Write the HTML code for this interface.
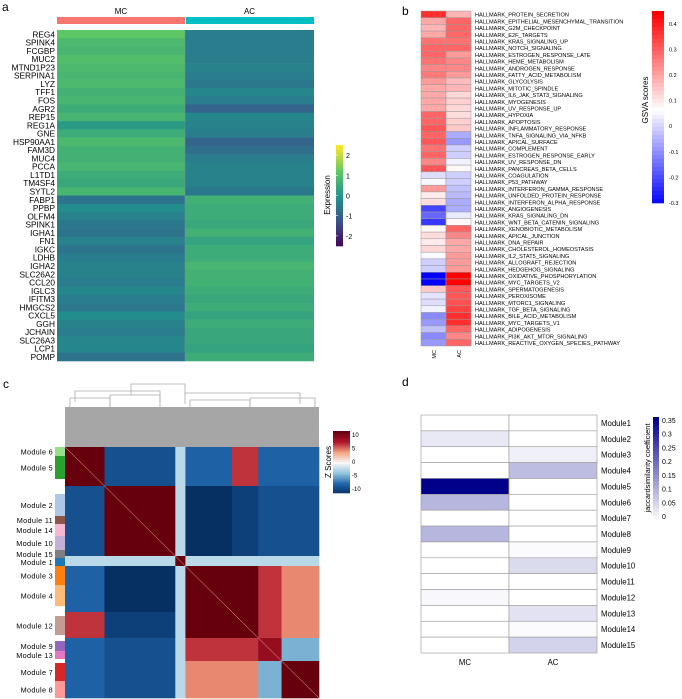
<!DOCTYPE html>
<html><head><meta charset="utf-8"><style>
body{margin:0;background:#fff;}
svg{display:block;font-family:"Liberation Sans",sans-serif;}
</style></head><body>
<svg id="s" width="682" height="699" viewBox="0 0 682 699">
<text x="2" y="11" font-size="12">a</text>
<text x="402" y="15" font-size="12">b</text>
<text x="3" y="388" font-size="12">c</text>
<text x="402" y="386" font-size="12">d</text>
<g id="ga"></g>
<g id="gb"></g>
<g id="gc"></g>
<g id="gd"></g>
</svg>
<script>
// ---- panel a data ----
const genes=["REG4","SPINK4","FCGBP","MUC2","MTND1P23","SERPINA1","LYZ","TFF1","FOS","AGR2","REP15","REG1A","GNE","HSP90AA1","FAM3D","MUC4","PCCA","L1TD1","TM4SF4","SYTL2","FABP1","PPBP","OLFM4","SPINK1","IGHA1","FN1","IGKC","LDHB","IGHA2","SLC26A2","CCL20","IGLC3","IFITM3","HMGCS2","CXCL5","GGH","JCHAIN","SLC26A3","LCP1","POMP"];
const exprMC=[1.2,0.9,0.8,1.0,0.9,0.8,0.9,0.7,0.8,0.6,0.8,0.2,0.6,0.9,0.7,0.7,0.8,0.6,0.5,0.8,-0.6,-0.1,-0.3,-0.5,-0.6,-0.3,-0.6,-0.4,-0.3,-0.3,-0.4,-0.2,-0.4,-0.5,-0.1,-0.3,-0.4,-0.2,-0.2,-0.6];
const exprAC=[-0.4,-0.4,-0.4,-0.4,-0.3,-0.4,-0.5,-0.2,-0.4,-0.9,-0.2,-0.3,-0.4,-0.9,-0.7,-0.4,-0.3,-0.3,-0.3,-0.5,0.7,0.6,0.6,0.5,0.7,0.4,0.6,0.6,0.8,0.7,0.7,0.6,0.5,0.6,0.4,0.6,0.5,0.5,0.4,0.6];
const exprTicks=[2,1,0,-1,-2];
// ---- panel b data ----
const pathways=["PROTEIN_SECRETION","EPITHELIAL_MESENCHYMAL_TRANSITION","G2M_CHECKPOINT","E2F_TARGETS","KRAS_SIGNALING_UP","NOTCH_SIGNALING","ESTROGEN_RESPONSE_LATE","HEME_METABOLISM","ANDROGEN_RESPONSE","FATTY_ACID_METABOLISM","GLYCOLYSIS","MITOTIC_SPINDLE","IL6_JAK_STAT3_SIGNALING","MYOGENESIS","UV_RESPONSE_UP","HYPOXIA","APOPTOSIS","INFLAMMATORY_RESPONSE","TNFA_SIGNALING_VIA_NFKB","APICAL_SURFACE","COMPLEMENT","ESTROGEN_RESPONSE_EARLY","UV_RESPONSE_DN","PANCREAS_BETA_CELLS","COAGULATION","P53_PATHWAY","INTERFERON_GAMMA_RESPONSE","UNFOLDED_PROTEIN_RESPONSE","INTERFERON_ALPHA_RESPONSE","ANGIOGENESIS","KRAS_SIGNALING_DN","WNT_BETA_CATENIN_SIGNALING","XENOBIOTIC_METABOLISM","APICAL_JUNCTION","DNA_REPAIR","CHOLESTEROL_HOMEOSTASIS","IL2_STAT5_SIGNALING","ALLOGRAFT_REJECTION","HEDGEHOG_SIGNALING","OXIDATIVE_PHOSPHORYLATION","MYC_TARGETS_V2","SPERMATOGENESIS","PEROXISOME","MTORC1_SIGNALING","TGF_BETA_SIGNALING","BILE_ACID_METABOLISM","MYC_TARGETS_V1","ADIPOGENESIS","PI3K_AKT_MTOR_SIGNALING","REACTIVE_OXYGEN_SPECIES_PATHWAY"];
const gsvaMC=[0.38,0.2,0.18,0.2,0.28,0.3,0.3,0.28,0.25,0.27,0.22,0.2,0.2,0.2,0.2,0.3,0.3,0.32,0.3,0.32,0.28,0.3,0.25,0.32,0.02,0.06,0.22,0.1,0.12,-0.2,-0.15,-0.22,0.08,0.12,0.1,0.13,0.06,0.0,0.0,-0.3,-0.3,0.15,0.03,0.02,0.05,-0.1,-0.08,-0.02,-0.1,-0.08];
const gsvaAC=[0.18,0.3,0.3,0.3,0.28,0.3,0.22,0.25,0.25,0.22,0.17,0.18,0.13,0.14,0.13,0.12,0.14,0.15,-0.05,-0.08,0,0,0.05,0.08,0,0,-0.02,-0.03,-0.05,-0.05,0.04,0.08,0.3,0.25,0.2,0.2,0.22,0.22,0.22,0.45,0.45,0.32,0.32,0.33,0.35,0.38,0.38,0.3,0.25,0.3];
const gsvaTicks=[0.4,0.3,0.2,0.1,0,-0.1,-0.2,-0.3];
// ---- panel c data ----
const modNames=["Module 6","Module 5","Module 2","Module 11","Module 14","Module 10","Module 15","Module 1","Module 3","Module 4","Module 12","Module 9","Module 13","Module 7","Module 8"];
const modStart=[0,9,47,69,77,89,103,111,119,138,169,194,204,216,234];
const modEnd=[9,32,69,77,89,103,111,119,138,159,188,204,212,234,251];
const segStart=[0,39,109,119,165,191,214];
const segEnd=[39,109,119,165,191,214,251];
const segZ=[
 [10,-8,-2,-7,6,-7,-7],
 [-8,10,-2,-10,-9,-8,-8],
 [-2,-2,10,-2,-2,-2,-2],
 [-7,-10,-2,10,10,6,4],
 [6,-9,-2,10,10,6,4],
 [-7,-8,-2,6,6,8,-4],
 [-7,-8,-2,4,4,-4,10]];
const zTicks=[10,5,0,-5,-10];
// ---- panel d data ----
const modules=["Module1","Module2","Module3","Module4","Module5","Module6","Module7","Module8","Module9","Module10","Module11","Module12","Module13","Module14","Module15"];
const jacMC=[0,0.03,0,0,0.35,0.1,0,0.1,0,0,0,0.01,0,0,0];
const jacAC=[0,0,0.02,0.09,0,0,0,0,0.005,0.05,0,0,0.04,0.005,0.06];
const jacTicks=[0.35,0.3,0.25,0.2,0.15,0.1,0.05,0];

const NS="http://www.w3.org/2000/svg";
function mk(p,t,a,txt){const e=document.createElementNS(NS,t);for(const k in a)e.setAttribute(k,a[k]);if(txt!==undefined)e.textContent=txt;p.appendChild(e);return e;}
function lerp(st,t){t=Math.max(0,Math.min(1,t));const n=st.length-1,i=Math.min(n-1,Math.floor(t*n)),f=t*n-i;const a=st[i],b=st[i+1];return `rgb(${a.map((v,k)=>Math.round(v+(b[k]-v)*f)).join(',')})`;}
const viridis=[[68,1,84],[59,82,139],[33,145,140],[94,201,98],[253,231,37]];
const rdbu=[[5,48,97],[33,102,172],[146,197,222],[247,247,247],[244,165,130],[178,24,43],[103,0,13]];
const bwr=[[0,0,255],[255,255,255],[255,0,0]];

// ===== Panel A =====
const ga=document.getElementById('ga');
const aX0=57,aXm=185,aX1=314,aY0=30,aY1=361,rowH=(aY1-aY0)/genes.length;
const exprScale=v=>(v+2.5)/5;
let r=mk(ga,'rect',{x:aX0,y:17,width:aXm-aX0,height:7,fill:'#F8766D'});

r=mk(ga,'rect',{x:aXm+1,y:17,width:aX1-aXm-1,height:7,fill:'#00BFC4'});

mk(ga,'text',{x:(aX0+aXm)/2,y:14,'font-size':8,'text-anchor':'middle'},'MC');
mk(ga,'text',{x:(aXm+aX1)/2,y:14,'font-size':8,'text-anchor':'middle'},'AC');
genes.forEach((g,i)=>{
  const y=aY0+i*rowH;
  let c=mk(ga,'rect',{x:aX0,y:y,width:aXm-aX0,height:rowH+0.3,fill:lerp(viridis,exprScale(exprMC[i]))});
  
  c=mk(ga,'rect',{x:aXm,y:y,width:aX1-aXm,height:rowH+0.3,fill:lerp(viridis,exprScale(exprAC[i]))});
  
  const t=mk(ga,'text',{x:55,y:y+rowH-1,'font-size':8.3,'text-anchor':'end'},g);
  
});
mk(ga,'line',{x1:aXm,x2:aXm,y1:aY0,y2:aY1,stroke:'#888','stroke-width':0.5});
const cbA0=145,cbA1=246;
for(let k=0;k<40;k++){mk(ga,'rect',{x:336,y:cbA0+k*(cbA1-cbA0)/40,width:7,height:(cbA1-cbA0)/40+0.3,fill:lerp(viridis,1-k/40)});}
const eY=v=>cbA1-(v+2.5)/5*(cbA1-cbA0);
exprTicks.forEach(v=>{const y=eY(v);mk(ga,'line',{x1:336,x2:338,y1:y,y2:y,stroke:'#fff','stroke-width':0.6});mk(ga,'text',{x:346,y:y+3,'font-size':7},v);});
mk(ga,'text',{x:0,y:0,'font-size':8,'text-anchor':'middle',transform:`translate(330,195) rotate(-90)`},'Expression');

// ===== Panel B =====
const gb=document.getElementById('gb');
const bX0=421,bW=25,bY0=11,bY1=346,bH=(bY1-bY0)/pathways.length;
const gs=v=>v<0.07?(v+0.3)/0.37*0.5:0.5+(v-0.07)/0.38*0.5;
pathways.forEach((p,i)=>{
  const y=bY0+i*bH;
  let c=mk(gb,'rect',{x:bX0,y:y,width:bW,height:bH,fill:lerp(bwr,gs(gsvaMC[i])),stroke:'#999','stroke-width':0.5});
  
  c=mk(gb,'rect',{x:bX0+bW,y:y,width:bW,height:bH,fill:lerp(bwr,gs(gsvaAC[i])),stroke:'#999','stroke-width':0.5});
  
  const t=mk(gb,'text',{x:475,y:y+bH-1,'font-size':5.6},'HALLMARK_'+p);
  
});
mk(gb,'text',{x:0,y:0,'font-size':5.5,'text-anchor':'end',transform:`translate(436,350) rotate(-90)`},'MC');
mk(gb,'text',{x:0,y:0,'font-size':5.5,'text-anchor':'end',transform:`translate(461,350) rotate(-90)`},'AC');
const cbB0=11,cbB1=203;
for(let k=0;k<48;k++){const v=0.45-k/48*0.75;mk(gb,'rect',{x:652,y:cbB0+k*(cbB1-cbB0)/48,width:12,height:(cbB1-cbB0)/48+0.3,fill:lerp(bwr,gs(v))});}
const gY=v=>cbB0+(0.45-v)/0.75*(cbB1-cbB0);
gsvaTicks.forEach(v=>{mk(gb,'text',{x:669,y:gY(v)+2,'font-size':5.5},v);});
mk(gb,'text',{x:0,y:0,'font-size':8,'text-anchor':'middle',transform:`translate(648,100) rotate(-90)`},'GSVA    scores');

// ===== Panel C =====
const gc=document.getElementById('gc');
const cX0=65,cX1=319,cY0=447,cY1=698,N=251;
const sx=i=>cX0+i/N*(cX1-cX0), sy=i=>cY0+i/N*(cY1-cY0);
mk(gc,'rect',{x:cX0,y:407,width:cX1-cX0,height:cY0-407,fill:'#a6a6a6'});
[[131,185,384,391],[75,160,391,398],[185,300,393,400],[70,110,398,405],[110,160,395,405],[190,250,400,405],[250,315,398,405]].forEach(d=>{
  mk(gc,'path',{d:`M${d[0]},${d[3]+4}V${d[2]}H${d[1]}V${d[3]+4}`,fill:'none',stroke:'#aaa','stroke-width':0.8});
});
segStart.forEach((s0,i)=>segStart.forEach((t0,j)=>{
  const c=mk(gc,'rect',{x:sx(t0),y:sy(s0),width:sx(segEnd[j])-sx(t0)+0.3,height:sy(segEnd[i])-sy(s0)+0.3,fill:lerp(rdbu,(segZ[i][j]+10)/20)});
  
}));
mk(gc,'line',{x1:cX0,y1:cY0,x2:cX1,y2:cY1,stroke:'#f2c0c0','stroke-width':0.5});
const modColors=["#98df8a","#2ca02c","#aec7e8","#8c564b","#f7b6d2","#c5b0d5","#7f7f7f","#1f77b4","#ff7f0e","#ffbb78","#c49c94","#9467bd","#e377c2","#d62728","#ff9896"];
modNames.forEach((m,i)=>{
  const y0=sy(modStart[i]),y1=sy(modEnd[i]);
  const c=mk(gc,'rect',{x:55,y:y0,width:10,height:y1-y0,fill:modColors[i]});
  
  const t=mk(gc,'text',{x:53,y:(y0+y1)/2+3,'font-size':7.3,'text-anchor':'end','letter-spacing':0.3},m);
  
});
const cbC0=431,cbC1=493;
for(let k=0;k<30;k++){mk(gc,'rect',{x:333,y:cbC0+k*(cbC1-cbC0)/30,width:17,height:(cbC1-cbC0)/30+0.3,fill:lerp(rdbu,1-k/30)});}
const zY=v=>cbC0+4+(10-v)/20*(cbC1-cbC0-8);
zTicks.forEach(v=>{const y=zY(v);mk(gc,'text',{x:352,y:y+2,'font-size':6},v);});
mk(gc,'text',{x:0,y:0,'font-size':8,'text-anchor':'middle',transform:`translate(331,462) rotate(-90)`},'Z Scores');

// ===== Panel D =====
const gd=document.getElementById('gd');
const dX0=421,dXm=509,dX1=597,dY0=415,dY1=653,dH=(dY1-dY0)/modules.length;
const jc=v=>lerp([[255,255,255],[0,0,139]],v/0.35);
modules.forEach((m,i)=>{
  const y=dY0+i*dH;
  let c=mk(gd,'rect',{x:dX0,y:y,width:dXm-dX0,height:dH,fill:jc(jacMC[i]),stroke:'#999','stroke-width':0.6});
  
  c=mk(gd,'rect',{x:dXm,y:y,width:dX1-dXm,height:dH,fill:jc(jacAC[i]),stroke:'#999','stroke-width':0.6});
  
  const t=mk(gd,'text',{x:601,y:y+dH/2+3,'font-size':7.8},m);
  
});
mk(gd,'text',{x:(dX0+dXm)/2,y:665,'font-size':7.8,'text-anchor':'middle'},'MC');
mk(gd,'text',{x:(dXm+dX1)/2,y:665,'font-size':7.8,'text-anchor':'middle'},'AC');
const cbD0=417,cbD1=519;
for(let k=0;k<30;k++){mk(gd,'rect',{x:653,y:cbD0+k*(cbD1-cbD0)/30,width:6,height:(cbD1-cbD0)/30+0.3,fill:jc(0.35*(1-k/30))});}
const jY=v=>cbD0+3+(0.35-v)/0.35*(cbD1-cbD0-6);
jacTicks.forEach(v=>{mk(gd,'text',{x:662,y:jY(v)+3,'font-size':7},v);});
mk(gd,'text',{x:0,y:0,'font-size':7.5,'text-anchor':'middle',transform:`translate(650,468) rotate(-90)`},'jaccardsimilarity  coefficient');
</script>
</body></html>
